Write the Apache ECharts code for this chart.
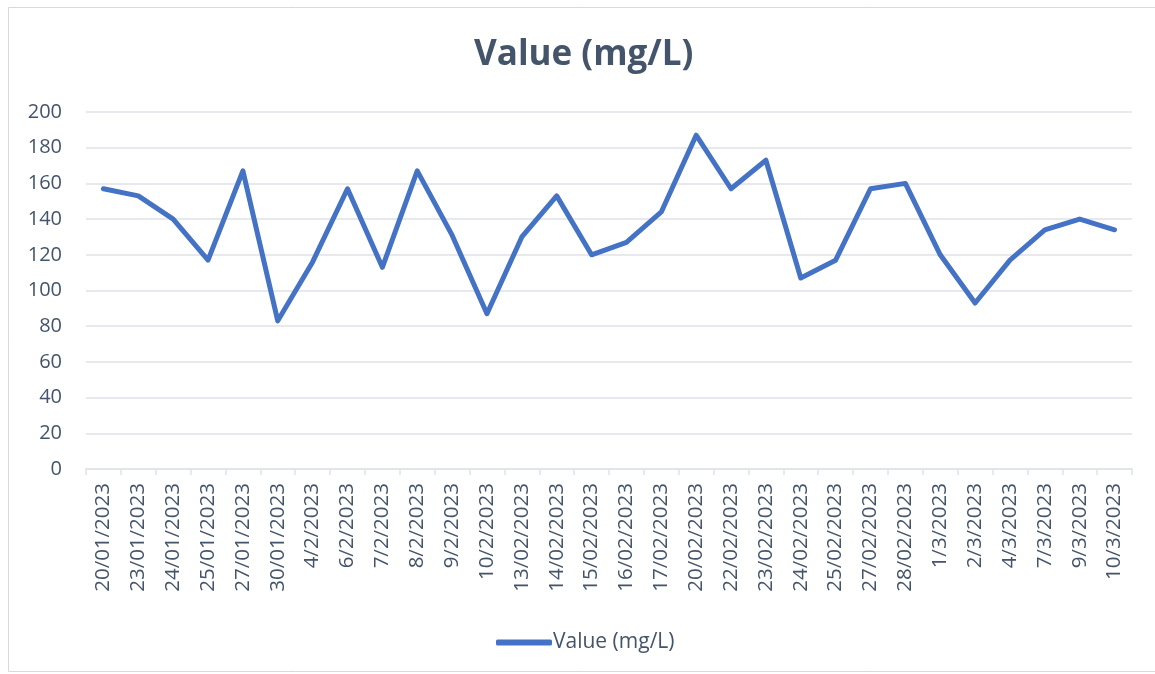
<!DOCTYPE html>
<html>
<head>
<meta charset="utf-8">
<script src="https://cdn.jsdelivr.net/npm/echarts@6/dist/echarts.min.js"></script>
<style>
  html, body { margin: 0; padding: 0; background: #fff; }
  #chart { width: 1155px; height: 674px; }
</style>
</head>
<body>
<div id="chart"></div>
<script>
const dates = [
  '20/01/2023', '23/01/2023', '24/01/2023', '25/01/2023', '27/01/2023', '30/01/2023',
  '4/2/2023', '6/2/2023', '7/2/2023', '8/2/2023', '9/2/2023', '10/2/2023',
  '13/02/2023', '14/02/2023', '15/02/2023', '16/02/2023', '17/02/2023', '20/02/2023',
  '22/02/2023', '23/02/2023', '24/02/2023', '25/02/2023', '27/02/2023', '28/02/2023',
  '1/3/2023', '2/3/2023', '4/3/2023', '7/3/2023', '9/3/2023', '10/3/2023'
]
const values = [
  157, 153, 140, 117, 167, 83,
  116, 157, 113, 167, 131, 87,
  130, 153, 120, 127, 144, 187,
  157, 173, 107, 117, 157, 160,
  120, 93, 117, 134, 140, 134
]
const seriesName = 'Value (mg/L)'

const textColor = '#44546a'
const gridColor = '#dfe2e8'
const font = 'Open Sans'

const chart = echarts.init( document.getElementById( 'chart' ) )

chart.setOption( {
  animation : false,
  title : {
    text : seriesName,
    left : 469,
    top : 33,
    textStyle : {
      fontFamily : font,
      fontSize : 35,
      fontWeight : 'bold',
      color : textColor
    }
  },
  graphic : [
    {
      type : 'rect',
      shape : { x : 8.5, y : 7.5, width : 1160, height : 664 },
      style : { fill : 'none', stroke : '#d9d9d9', lineWidth : 1 },
      silent : true
    }
  ],
  legend : {
    bottom : 16,
    left : 491,
    itemWidth : 56,
    itemHeight : 6,
    itemGap : 0,
    icon : 'roundRect',
    data : [ seriesName ],
    textStyle : {
      fontFamily : font,
      fontSize : 21,
      color : textColor,
      padding : [ 0, 0, 0, -4 ]
    }
  },
  grid : {
    left : 86,
    right : 23,
    top : 112,
    bottom : 205
  },
  xAxis : {
    type : 'category',
    data : dates,
    boundaryGap : true,
    axisLine : { lineStyle : { color : gridColor, width : 1.5 }},
    axisTick : { show : true, length : 6, lineStyle : { color : gridColor, width : 1.5 }},
    axisLabel : {
      rotate : 90,
      interval : 0,
      fontFamily : font,
      fontSize : 20.5,
      color : textColor,
      margin : 14
    }
  },
  yAxis : {
    type : 'value',
    min : 0,
    max : 200,
    interval : 20,
    axisLine : { show : false },
    axisTick : { show : false },
    splitLine : { lineStyle : { color : gridColor, width : 1.5 }},
    axisLabel : {
      fontFamily : font,
      fontSize : 20,
      color : textColor,
      margin : 24
    }
  },
  series : [
    {
      name : seriesName,
      type : 'line',
      data : values,
      showSymbol : false,
      symbol : 'none',
      lineStyle : { color : '#4472c4', width : 5, cap : 'round', join : 'round' },
      itemStyle : { color : '#4472c4' }
    }
  ]
} )
</script>
</body>
</html>
